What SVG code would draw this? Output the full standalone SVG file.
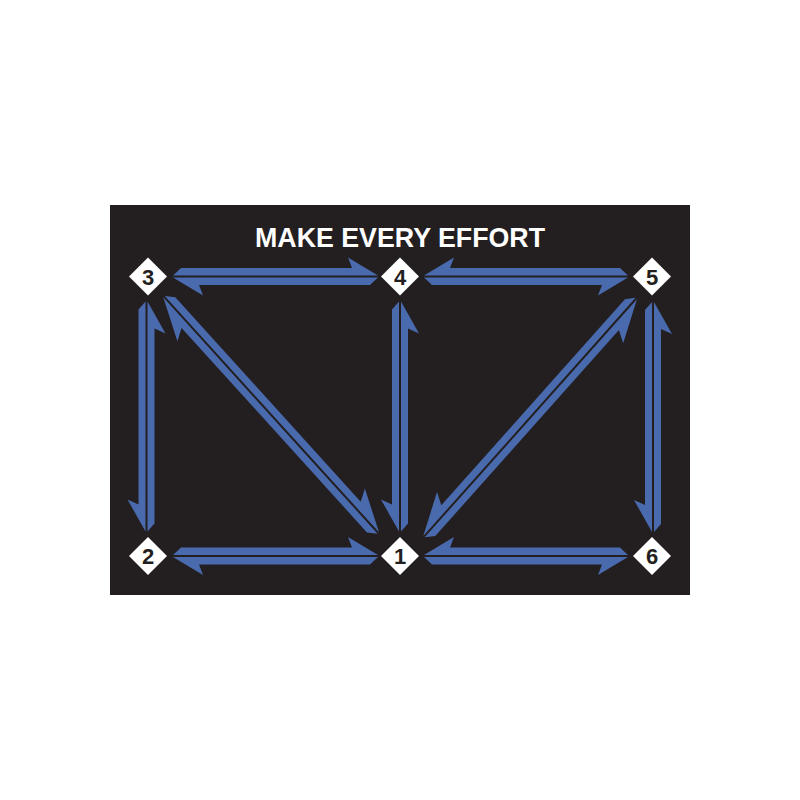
<svg xmlns="http://www.w3.org/2000/svg" width="800" height="800" viewBox="0 0 800 800">
  <style>
    .bar { fill: #4a6aae; }
    .dia { fill: #ffffff; }
    .num { font-family: "Liberation Sans", Arial, sans-serif; font-weight: bold; font-size: 22px; fill: #231f20; text-anchor: middle; }
    .title { font-family: "Liberation Sans", Arial, sans-serif; font-weight: bold; font-size: 28px; fill: #ffffff; text-anchor: middle; }
  </style>
  <rect x="0" y="0" width="800" height="800" fill="#ffffff"/>
  <rect x="110" y="205" width="580" height="390" fill="#231f20"/>
  <text class="title" x="400" y="247" textLength="290" lengthAdjust="spacingAndGlyphs">MAKE EVERY EFFORT</text>

  <g id="connectors">
    <!-- 3 - 4 -->
    <g transform="translate(173,276.5)">
      <polygon class="bar" points="0,-1 8,-8.5 179,-8.5 175,-19 205,-1"/>
      <polygon class="bar" points="205,1 197,8.5 26,8.5 30,19 0,1"/>
    </g>
    <!-- 4 - 5 -->
    <g transform="translate(424,276.5) scale(1,-1)">
      <polygon class="bar" points="0,-1 8,-8.5 178,-8.5 174,-19 204,-1"/>
      <polygon class="bar" points="204,1 196,8.5 26,8.5 30,19 0,1"/>
    </g>
    <!-- 2 - 1 -->
    <g transform="translate(173,556)">
      <polygon class="bar" points="0,-1 8,-8.5 179,-8.5 175,-19 205,-1"/>
      <polygon class="bar" points="205,1 197,8.5 26,8.5 30,19 0,1"/>
    </g>
    <!-- 1 - 6 -->
    <g transform="translate(424,556) scale(1,-1)">
      <polygon class="bar" points="0,-1 8,-8.5 178,-8.5 174,-19 204,-1"/>
      <polygon class="bar" points="204,1 196,8.5 26,8.5 30,19 0,1"/>
    </g>
    <!-- 3 - 2 -->
    <g transform="translate(146.5,301.5) rotate(90) scale(1,-1)">
      <polygon class="bar" points="0,-1 8,-8 203,-8 198,-19 230,-1"/>
      <polygon class="bar" points="230,1 222,8 27,8 32,19 0,1"/>
    </g>
    <!-- 4 - 1 -->
    <g transform="translate(400,301.5) rotate(90) scale(1,-1)">
      <polygon class="bar" points="0,-1 8,-8 203,-8 198,-19 230,-1"/>
      <polygon class="bar" points="230,1 222,8 27,8 32,19 0,1"/>
    </g>
    <!-- 5 - 6 -->
    <g transform="translate(653,302) rotate(90) scale(1,-1)">
      <polygon class="bar" points="0,-1 8,-8 203,-8 198,-19 230,-1"/>
      <polygon class="bar" points="230,1 222,8 27,8 32,19 0,1"/>
    </g>
    <!-- 3 - 1 diagonal -->
    <g transform="translate(164,296.7) rotate(47.8)">
      <polygon class="bar" points="0,-1 8,-8 284,-8 277,-20 319,-1"/>
      <polygon class="bar" points="319,1 311,8 35,8 42,20 0,1"/>
    </g>
    <!-- 1 - 5 diagonal -->
    <g transform="translate(424,536.7) rotate(-48.3) scale(1,-1)">
      <polygon class="bar" points="0,-1 8,-8 284,-8 277,-20 319,-1"/>
      <polygon class="bar" points="319,1 311,8 35,8 42,20 0,1"/>
    </g>
  </g>

  <g id="node-3">
    <polygon class="dia" points="148,257.5 167,276.5 148,295.5 129,276.5"/>
    <text class="num" x="148" y="284.5">3</text>
  </g>
  <g id="node-4">
    <polygon class="dia" points="400,257.5 419,276.5 400,295.5 381,276.5"/>
    <text class="num" x="400" y="284.5">4</text>
  </g>
  <g id="node-5">
    <polygon class="dia" points="652,257.5 671,276.5 652,295.5 633,276.5"/>
    <text class="num" x="652" y="284.5">5</text>
  </g>
  <g id="node-2">
    <polygon class="dia" points="148,537 167,556 148,575 129,556"/>
    <text class="num" x="148" y="564">2</text>
  </g>
  <g id="node-1">
    <polygon class="dia" points="400,537 419,556 400,575 381,556"/>
    <text class="num" x="400" y="564">1</text>
  </g>
  <g id="node-6">
    <polygon class="dia" points="652,537 671,556 652,575 633,556"/>
    <text class="num" x="652" y="564">6</text>
  </g>
</svg>
